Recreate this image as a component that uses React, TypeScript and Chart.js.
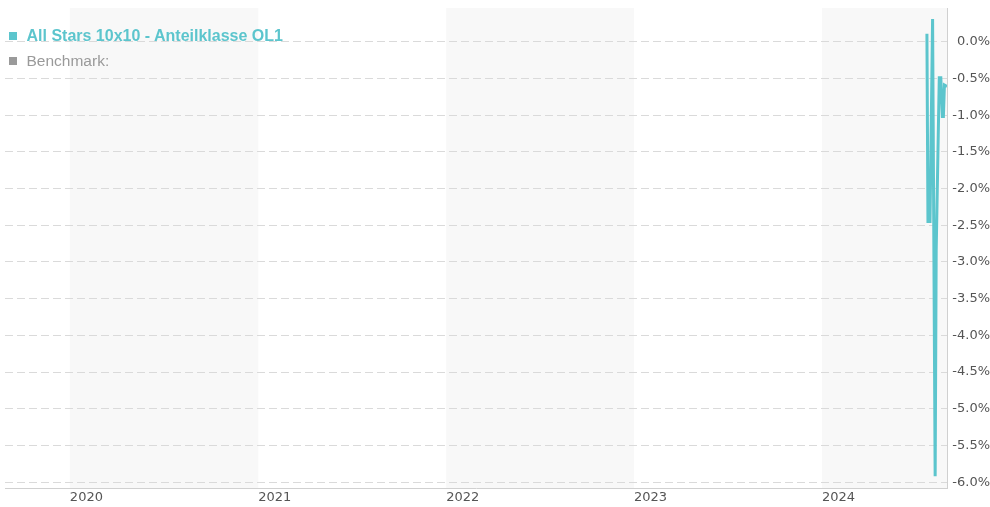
import { useEffect, useRef } from 'react';
import { Chart, registerables } from 'chart.js';

Chart.register(...registerables);

const seriesName = 'All Stars 10x10 - Anteilklasse OL1';
const benchmarkName = 'Benchmark:';

const dates = [
  '2024-07-23', '2024-07-25', '2024-07-29', '2024-08-03', '2024-08-08', '2024-08-10',
  '2024-08-16', '2024-08-19', '2024-08-22', '2024-08-24', '2024-08-26', '2024-08-31',
];
const values = [0.11, -2.45, -2.45, 0.31, -5.92, -2.84, -0.49, -0.49, -1.02, -1.02, -0.59, -0.61];

const yTicks = [0, -0.5, -1, -1.5, -2, -2.5, -3, -3.5, -4, -4.5, -5, -5.5, -6];
const yearTicks = [2020, 2021, 2022, 2023, 2024];
const shadedYears = [2020, 2022, 2024];
const xStart = '2019-08-28';
const xEnd = '2024-08-31';
const yMin = -6.08;
const yMax = 0.46;

const LINE = '#5cc5cd';
const GREY = '#9a9a9a';

const toTs = (d: string) => {
  const [y, m, dd] = d.split('-').map(Number);
  return Date.UTC(y, m - 1, dd);
};

const bandsPlugin = {
  id: 'yearBands',
  beforeDraw(chart: any) {
    const { ctx, chartArea, scales } = chart;
    const x = scales.x;
    ctx.save();
    ctx.fillStyle = '#f8f8f8';
    shadedYears.forEach((yr) => {
      const a = Math.max(x.getPixelForValue(Date.UTC(yr, 0, 1)), chartArea.left);
      const b = Math.min(x.getPixelForValue(Date.UTC(yr + 1, 0, 1)), chartArea.right);
      if (b > a) ctx.fillRect(a, chartArea.top, b - a, chartArea.bottom - chartArea.top);
    });
    ctx.restore();
  },
};

export default function App() {
  const ref = useRef<HTMLCanvasElement | null>(null);

  useEffect(() => {
    if (!ref.current) return;
    const tickFont = { family: '"DejaVu Sans", Verdana, sans-serif', size: 13, lineHeight: 0.1 };
    const chart = new Chart(ref.current, {
      type: 'line',
      data: {
        datasets: [
          {
            label: seriesName,
            data: dates.map((d, i) => ({ x: toTs(d), y: values[i] })),
            borderColor: LINE,
            backgroundColor: LINE,
            borderWidth: 3,
            pointRadius: 0,
            tension: 0,
            fill: false,
          },
        ],
      },
      options: {
        animation: false,
        responsive: true,
        maintainAspectRatio: false,
        layout: { padding: { left: 5, top: 8, right: 0, bottom: 0 } },
        plugins: { legend: { display: false }, tooltip: { enabled: false } },
        scales: {
          x: {
            type: 'linear',
            min: toTs(xStart),
            max: toTs(xEnd),
            afterBuildTicks: (s: any) => {
              s.ticks = yearTicks.map((y) => ({ value: Date.UTC(y, 0, 1) }));
            },
            afterFit: (s: any) => {
              s.height = 19;
            },
            grid: { display: false, drawTicks: false },
            border: { display: true, color: '#d0d0d0', width: 1 },
            ticks: {
              align: 'start',
              padding: 2,
              maxRotation: 0,
              autoSkip: false,
              color: '#555',
              font: { family: '"DejaVu Sans", Verdana, sans-serif', size: 13 },
              callback: (v: any) => String(new Date(Number(v)).getUTCFullYear()),
            },
          },
          y: {
            position: 'right',
            min: yMin,
            max: yMax,
            afterBuildTicks: (s: any) => {
              s.ticks = yTicks.map((v) => ({ value: v }));
            },
            afterFit: (s: any) => {
              s.width = 43;
            },
            grid: { color: '#dadada', lineWidth: 1, drawTicks: false },
            border: { display: true, color: '#d0d0d0', width: 1, dash: [8, 4] },
            ticks: {
              padding: 6,
              crossAlign: 'far',
              color: '#555',
              font: tickFont,
              callback: (v: any) => Number(v).toFixed(1) + '%',
            },
          },
        },
      },
      plugins: [bandsPlugin],
    } as any);
    return () => chart.destroy();
  }, []);

  const legendFont = '"Liberation Sans", Arial, sans-serif';
  return (
    <div style={{ position: 'absolute', left: 0, top: 0, width: 990, height: 507, overflow: 'hidden' }}>
      <canvas ref={ref} />
      <div style={{ position: 'absolute', left: 9, top: 32, width: 8, height: 8, background: LINE }} />
      <div
        style={{
          position: 'absolute', left: 26.5, top: 27, fontFamily: legendFont, fontWeight: 'bold',
          fontSize: 16, color: LINE, whiteSpace: 'nowrap',
        }}
      >
        {seriesName}
      </div>
      <div style={{ position: 'absolute', left: 9, top: 57, width: 8, height: 8, background: GREY }} />
      <div
        style={{
          position: 'absolute', left: 26.5, top: 51.5, fontFamily: legendFont,
          fontSize: 15.5, color: GREY, whiteSpace: 'nowrap',
        }}
      >
        {benchmarkName}
      </div>
    </div>
  );
}
